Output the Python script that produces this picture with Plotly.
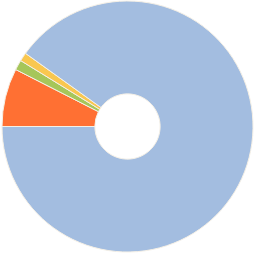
import plotly.graph_objects as go

labels = ["A", "B", "C", "D"]
values = [7.5, 1.3, 1.1, 90.1]
colors = ["#ff7033", "#a6c65a", "#f9c74f", "#a3bde0"]

fig = go.Figure(go.Pie(
    labels=labels, values=values, hole=0.26, sort=False,
    direction="clockwise", rotation=-90,
    marker=dict(colors=colors, line=dict(color="#f5f0e6", width=1)),
    textinfo="none", hoverinfo="label+percent", showlegend=False,
))
fig.update_layout(width=255, height=255, margin=dict(l=2, r=2, t=1, b=3),
                  paper_bgcolor="white", plot_bgcolor="white")
fig.write_html("out.html", config={"displayModeBar": False},
               post_script="document.body.style.margin='0';document.body.style.overflow='hidden';")
